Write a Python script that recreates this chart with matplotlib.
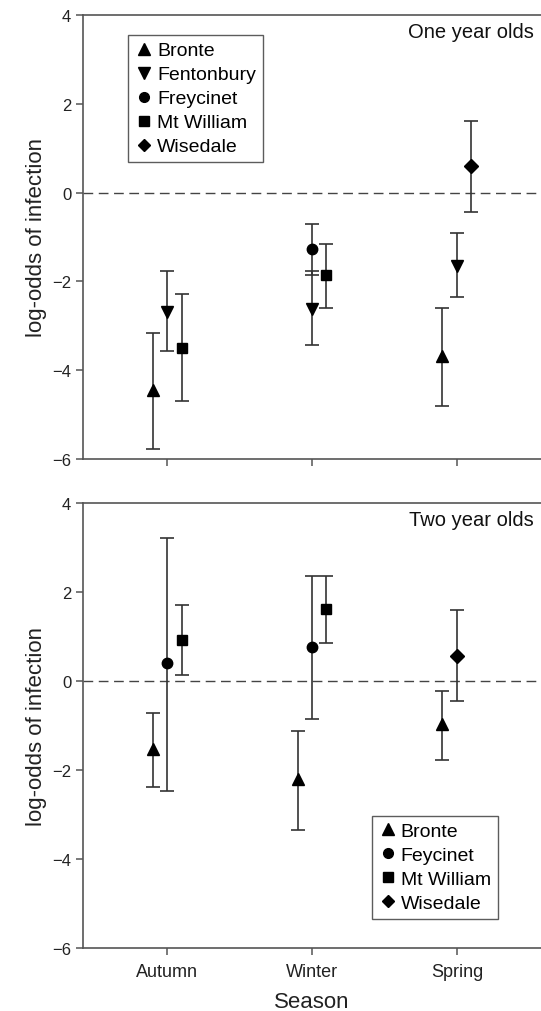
import matplotlib.pyplot as plt
from matplotlib.lines import Line2D

plt.rcParams['font.family'] = ['Liberation Sans', 'DejaVu Sans']

seasons = ["Autumn", "Winter", "Spring"]

# one year olds
one_sites = ["Bronte", "Fentonbury", "Freycinet", "Mt William", "Wisedale"]
one_x = [
    [1, 3],          # Bronte
    [1, 2, 3],       # Fentonbury
    [2],             # Freycinet
    [1, 2],          # Mt William
    [3],             # Wisedale
]
one_val = [
    [-4.45, -3.68],
    [-2.69, -2.63, -1.65],
    [-1.26],
    [-3.50, -1.86],
    [0.59],
]
one_hi = [
    [-3.16, -2.61],
    [-1.76, -1.76, -0.92],
    [-0.71],
    [-2.29, -1.15],
    [1.61],
]
one_lo = [
    [-5.77, -4.81],
    [-3.57, -3.44, -2.35],
    [-1.86],
    [-4.70, -2.61],
    [-0.44],
]
one_off = [-0.1, 0.0, 0.0, 0.1, 0.1]

# two year olds
two_sites = ["Bronte", "Feycinet", "Mt William", "Wisedale"]
two_x = [[1, 2, 3], [1, 2], [1, 2], [3]]
two_val = [[-1.54, -2.21, -0.97], [0.40, 0.76], [0.91, 1.61], [0.56]]
two_hi = [[-0.73, -1.12, -0.22], [3.22, 2.35], [1.71, 2.35], [1.60]]
two_lo = [[-2.38, -3.36, -1.78], [-2.47, -0.85], [0.13, 0.85], [-0.46]]
two_off = [-0.1, 0.0, 0.1, 0.0]

markers = {"Bronte": "^", "Fentonbury": "v", "Freycinet": "o", "Feycinet": "o",
           "Mt William": "s", "Wisedale": "D"}
msize = {"^": 9, "v": 9, "o": 7.5, "s": 7, "D": 7}

fig = plt.figure(figsize=(5.41, 10.12), dpi=100)
ax1 = fig.add_axes([0.1534, 0.5455, 0.8466, 0.4387])
ax2 = fig.add_axes([0.1534, 0.0623, 0.8466, 0.4397])


def draw(ax, sites, xs, vals, his, los, offs, title):
    for s, x, v, h, l, o in zip(sites, xs, vals, his, los, offs):
        xx = [xi + o for xi in x]
        err = [[vi - li for vi, li in zip(v, l)], [hi - vi for vi, hi in zip(v, h)]]
        m = markers[s]
        ax.errorbar(xx, v, yerr=err, fmt=m, color="black", ms=msize[m],
                    ecolor="#333333", elinewidth=1.2, capsize=5, capthick=1.2)
    ax.axhline(0, color="#444444", lw=1, ls=(0, (7, 4)), zorder=0)
    ax.set_xlim(0.42, 3.58)
    ax.set_ylim(-6, 4)
    ax.set_yticks([-6, -4, -2, 0, 2, 4])
    ax.set_yticklabels(["\u22126", "\u22124", "\u22122", "0", "2", "4"])
    ax.set_xticks([1, 2, 3])
    ax.spines["right"].set_visible(False)
    for sp in ["left", "bottom", "top"]:
        ax.spines[sp].set_color("#555555")
        ax.spines[sp].set_linewidth(1.2)
    ax.tick_params(direction="out", length=5, width=1.1, color="#555555",
                   labelsize=12, labelcolor="#222222")
    ax.tick_params(axis="x", labelsize=13, pad=6)
    ax.set_ylabel("log-odds of infection", fontsize=16, color="#222222")
    ax.text(0.985, 0.985, title, transform=ax.transAxes, ha="right", va="top",
            fontsize=14.5, color="#111111")
    handles = [Line2D([], [], ls="none", marker=markers[s], color="black",
                      ms=msize[markers[s]] - 0.5) for s in sites]
    return handles


h1 = draw(ax1, one_sites, one_x, one_val, one_hi, one_lo, one_off, "One year olds")
ax1.set_xticklabels([])
ax1.legend(h1, one_sites, loc="upper left", bbox_to_anchor=(0.098, 0.955),
           fontsize=14, frameon=True, fancybox=False, edgecolor="#333333",
           handletextpad=0.15, handlelength=1.0, labelspacing=0.33,
           borderpad=0.35, borderaxespad=0)

h2 = draw(ax2, two_sites, two_x, two_val, two_hi, two_lo, two_off, "Two year olds")
ax2.set_xticklabels(seasons)
ax2.set_xlabel("Season", fontsize=16, color="#222222", labelpad=8)
ax2.legend(h2, two_sites, loc="lower left", bbox_to_anchor=(0.63, 0.065),
           fontsize=14, frameon=True, fancybox=False, edgecolor="#333333",
           handletextpad=0.15, handlelength=1.0, labelspacing=0.33,
           borderpad=0.35, borderaxespad=0)

fig.savefig("out.png", dpi=100)
